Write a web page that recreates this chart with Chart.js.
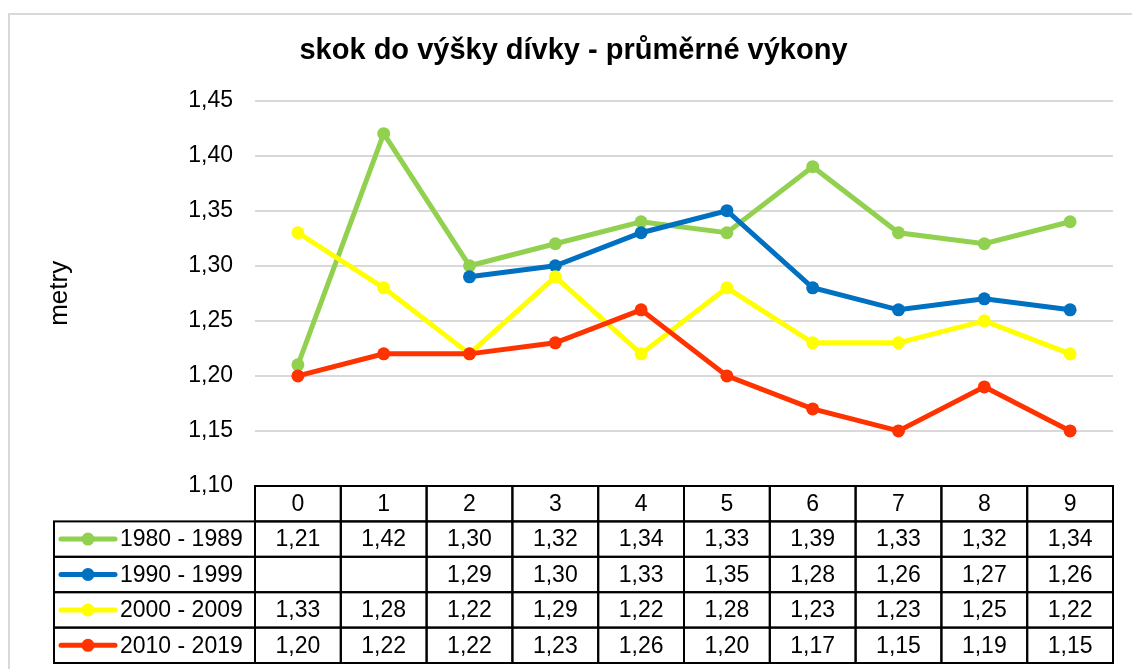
<!DOCTYPE html>
<html>
<head>
<meta charset="utf-8">
<script src="https://cdn.jsdelivr.net/npm/chart.js@4/dist/chart.umd.min.js"></script>
<style>
  body { margin: 0; background: #fff; }
</style>
</head>
<body>
<canvas id="graf" width="1132" height="669"></canvas>
<script>
// roky v tabulce (osa x)
let roky = ['0', '1', '2', '3', '4', '5', '6', '7', '8', '9'];

// nazvy serii + barvy
let serie = ['1980 - 1989', '1990 - 1999', '2000 - 2009', '2010 - 2019'];
let barvy = ['#92D050', '#0070C0', '#FFFF00', '#FF3300'];

// hodnoty
let d1980 = [1.21, 1.42, 1.30, 1.32, 1.34, 1.33, 1.39, 1.33, 1.32, 1.34];
let d1990 = [null, null, 1.29, 1.30, 1.33, 1.35, 1.28, 1.26, 1.27, 1.26];
let d2000 = [1.33, 1.28, 1.22, 1.29, 1.22, 1.28, 1.23, 1.23, 1.25, 1.22];
let d2010 = [1.20, 1.22, 1.22, 1.23, 1.26, 1.20, 1.17, 1.15, 1.19, 1.15];
let hodnoty = [d1980, d1990, d2000, d2010];

let font = "'Liberation Sans', Arial, sans-serif";
let carka = v => v.toFixed(2).replace('.', ',');

// ramecek kolem grafu
let ramecek = {
  id: 'ramecek',
  beforeDraw(chart) {
    let ctx = chart.ctx;
    ctx.save();
    ctx.fillStyle = '#fff';
    ctx.fillRect(0, 0, chart.width, chart.height);
    ctx.strokeStyle = '#d9d9d9';
    ctx.lineWidth = 2;
    ctx.strokeRect(9, 14, chart.width + 20, chart.height + 20);
    ctx.restore();
  }
};

// datova tabulka pod grafem
let tabulka = {
  id: 'tabulka',
  afterDraw(chart) {
    let ctx = chart.ctx;
    let x = chart.scales.x;
    let area = chart.chartArea;
    let w = (area.right - area.left) / roky.length;
    let top = area.bottom;
    let rowH = 35.4;
    let legL = 54;

    ctx.save();
    ctx.strokeStyle = '#000';
    ctx.lineWidth = 2;
    ctx.fillStyle = '#000';
    ctx.font = '23px ' + font;
    ctx.textAlign = 'center';
    ctx.textBaseline = 'middle';

    // hlavicka
    roky.forEach((r, i) => {
      let cx = x.getPixelForValue(i);
      ctx.strokeRect(cx - w / 2, top, w, rowH);
      ctx.fillText(r, cx, top + rowH / 2 + 1);
    });

    // radky
    serie.forEach((s, j) => {
      let y0 = top + rowH * (j + 1);
      let cy = y0 + rowH / 2 + 1;
      ctx.strokeRect(legL, y0, area.left - legL, rowH);
      hodnoty[j].forEach((v, i) => {
        let cx = x.getPixelForValue(i);
        ctx.strokeRect(cx - w / 2, y0, w, rowH);
        if (v !== null) {
          ctx.textAlign = 'center';
          ctx.fillText(carka(v), cx, cy);
        }
      });
      // klic legendy
      ctx.save();
      ctx.strokeStyle = barvy[j];
      ctx.fillStyle = barvy[j];
      ctx.lineWidth = 5;
      ctx.lineCap = 'round';
      ctx.beginPath();
      ctx.moveTo(61, cy - 1);
      ctx.lineTo(115, cy - 1);
      ctx.stroke();
      ctx.beginPath();
      ctx.arc(88, cy - 1, 6.5, 0, Math.PI * 2);
      ctx.fill();
      ctx.restore();
      ctx.textAlign = 'left';
      ctx.fillText(s, 120, cy);
    });
    ctx.restore();
  }
};

let graf = new Chart(document.getElementById('graf'), {
  type: 'line',
  data: {
    labels: roky,
    datasets: serie.map((s, j) => ({
      label: s,
      data: hodnoty[j],
      borderColor: barvy[j],
      backgroundColor: barvy[j],
      borderWidth: 5,
      pointRadius: 6.5,
      pointHoverRadius: 6.5,
      pointBorderWidth: 0,
      tension: 0,
      order: 3 - j
    }))
  },
  options: {
    responsive: false,
    animation: false,
    layout: { padding: { left: 34, right: 19, top: 15, bottom: 183 } },
    plugins: {
      legend: { display: false },
      tooltip: { enabled: false },
      title: {
        display: true,
        text: 'skok do výšky dívky - průměrné výkony',
        color: '#000',
        font: { family: font, size: 29, weight: 'bold' },
        padding: { top: 18.4, bottom: 32.4 }
      }
    },
    scales: {
      x: {
        display: false,
        offset: true
      },
      y: {
        min: 1.10,
        max: 1.45,
        afterFit(scale) { scale.width = 221; },
        grid: { color: '#d9d9d9', lineWidth: 2, drawTicks: false },
        border: { display: false },
        ticks: {
          stepSize: 0.05,
          padding: 22,
          color: '#000',
          font: { family: font, size: 23 },
          callback: v => carka(v)
        },
        title: {
          display: true,
          text: 'metry',
          color: '#000',
          font: { family: font, size: 26 },
          padding: { top: 10 }
        }
      }
    }
  },
  plugins: [ramecek, tabulka]
});
</script>
</body>
</html>
